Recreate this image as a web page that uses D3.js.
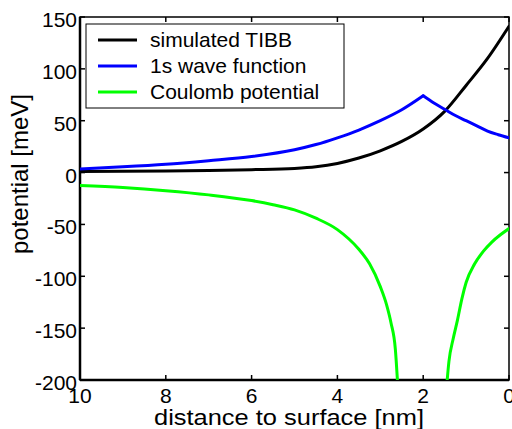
<!DOCTYPE html>
<html><head><meta charset="utf-8">
<script src="https://cdn.jsdelivr.net/npm/d3@7"></script>
<style>
html,body{margin:0;padding:0;background:#fff;}
text{font-family:"Liberation Sans",Arial,sans-serif;fill:#000;}
</style></head>
<body>
<svg id="chart" width="512" height="429"></svg>
<script>
// ---- data ----
const xTicks = [10, 8, 6, 4, 2, 0];
const yTicks = [150, 100, 50, 0, -50, -100, -150, -200];
const seriesNames = ["simulated TIBB", "1s wave function", "Coulomb potential"];
const seriesColors = ["#000000", "#0000ff", "#00ff00"];

const tibbDist = [10, 9, 8, 7, 6, 5, 4.5, 4, 3.5, 3, 2.5, 2, 1.5, 1, 0.5, 0];
const tibbPot  = [1, 1.2, 1.5, 2, 2.8, 4, 5.6, 8.8, 14, 21, 30, 42, 59, 84, 110, 141];

const waveDist = [10, 9, 8, 7, 6, 5, 4.5, 4, 3.5, 3, 2.5, 2, 1.75, 1.5, 1.25, 1, 0.75, 0.5, 0.25, 0];
const wavePot  = [3.5, 5.5, 8, 11.5, 15.5, 22, 27, 33.5, 41, 50, 60.5, 74, 67, 61, 55, 50, 45, 40, 36.5, 33.5];

const coulLeftDist  = [10, 9, 8, 7, 6, 5.5, 5, 4.5, 4, 3.5, 3.25, 3, 2.85, 2.75, 2.65, 2.58];
const coulLeftPot   = [-12.5, -14.5, -17.5, -21.5, -27, -31, -36, -44, -55, -74, -88, -110, -128, -145, -170, -215];
const coulRightDist = [1.47, 1.4, 1.3, 1.2, 1.1, 1.0, 0.8, 0.6, 0.4, 0.2, 0];
const coulRightPot  = [-215, -182, -160, -142, -122, -106, -88, -76, -67, -60, -54];

// ---- layout ----
const svg = d3.select("#chart");
const L = 80, R = 509, T = 17, B = 380;
const x = d3.scaleLinear().domain([10, 0]).range([L, R]);
const y = d3.scaleLinear().domain([-200, 150]).range([B, T]);

svg.append("defs").append("clipPath").attr("id", "plotclip")
  .append("rect").attr("x", L).attr("y", T).attr("width", R - L).attr("height", B - T);

// ticks (inside)
const tickLen = 5;
const g = svg.append("g");
xTicks.forEach(t => {
  g.append("line").attr("x1", x(t)).attr("x2", x(t)).attr("y1", B).attr("y2", B - tickLen)
    .attr("stroke", "#000").attr("stroke-width", 1.5);
  g.append("line").attr("x1", x(t)).attr("x2", x(t)).attr("y1", T).attr("y2", T + tickLen)
    .attr("stroke", "#000").attr("stroke-width", 1.5);
  g.append("text").attr("x", x(t)).attr("y", B + 23).attr("text-anchor", "middle")
    .attr("font-size", 21).text(t);
});
yTicks.forEach(t => {
  g.append("line").attr("x1", L).attr("x2", L + tickLen).attr("y1", y(t)).attr("y2", y(t))
    .attr("stroke", "#000").attr("stroke-width", 1.5);
  g.append("line").attr("x1", R).attr("x2", R - tickLen).attr("y1", y(t)).attr("y2", y(t))
    .attr("stroke", "#000").attr("stroke-width", 1.5);
  g.append("text").attr("x", L - 3).attr("y", y(t) + 10).attr("text-anchor", "end")
    .attr("font-size", 21).text(t);
});

// box
g.append("rect").attr("x", L).attr("y", T).attr("width", R - L).attr("height", B - T)
  .attr("fill", "none").attr("stroke", "#000").attr("stroke-width", 1.5);
g.append("line").attr("x1", L).attr("x2", L).attr("y1", T).attr("y2", B)
  .attr("stroke", "#000").attr("stroke-width", 2.5);
g.append("line").attr("x1", L).attr("x2", R).attr("y1", B).attr("y2", B)
  .attr("stroke", "#000").attr("stroke-width", 2.5);

// curves
const line = d3.line().curve(d3.curveMonotoneX).x(d => x(d[0])).y(d => y(d[1]));
const plot = svg.append("g").attr("clip-path", "url(#plotclip)");
const peak = wavePot.indexOf(d3.max(wavePot));
const wave = d3.zip(waveDist, wavePot);
const paths = [
  [d3.zip(tibbDist, tibbPot), 0],
  [wave.slice(0, peak + 1), 1],
  [wave.slice(peak), 1],
  [d3.zip(coulLeftDist, coulLeftPot), 2],
  [d3.zip(coulRightDist, coulRightPot), 2]
];
paths.forEach(([s, i]) => {
  plot.append("path").datum(s).attr("d", line)
    .attr("fill", "none").attr("stroke", seriesColors[i])
    .attr("stroke-width", 3).attr("stroke-linejoin", "round").attr("stroke-linecap", "round");
});

// legend
const lg = svg.append("g");
lg.append("rect").attr("x", 86).attr("y", 24).attr("width", 258).attr("height", 84)
  .attr("fill", "#fff").attr("stroke", "#000").attr("stroke-width", 1);
const rowY = [40, 66, 92];
seriesNames.forEach((n, i) => {
  lg.append("line").attr("x1", 98).attr("x2", 137).attr("y1", rowY[i]).attr("y2", rowY[i])
    .attr("stroke", seriesColors[i]).attr("stroke-width", 3);
  lg.append("text").attr("x", 150).attr("y", rowY[i] + 7).attr("font-size", 21).text(n);
});

// axis titles
svg.append("text").attr("x", 289).attr("y", 425).attr("text-anchor", "middle")
  .attr("font-size", 22).attr("textLength", 270).attr("lengthAdjust", "spacingAndGlyphs")
  .text("distance to surface [nm]");
svg.append("text").attr("transform", "translate(28,174) rotate(-90)")
  .attr("text-anchor", "middle").attr("font-size", 24).text("potential [meV]");
</script>
</body></html>
